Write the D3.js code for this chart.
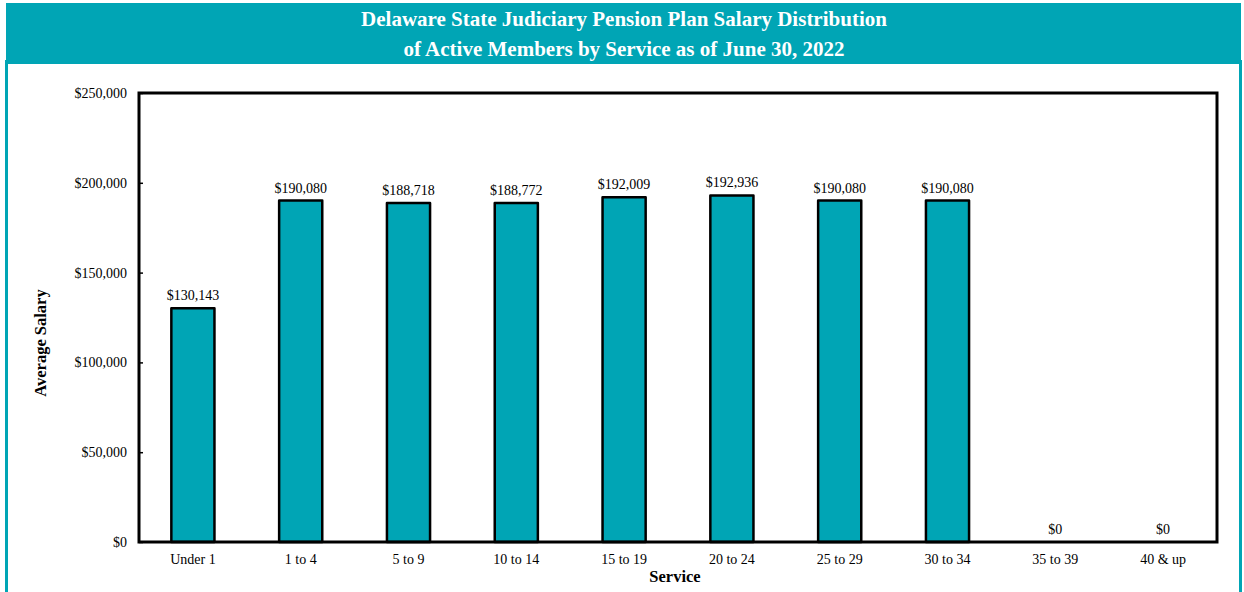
<!DOCTYPE html>
<html>
<head>
<meta charset="utf-8">
<script src="https://cdn.jsdelivr.net/npm/d3@7"></script>
<style>
  body { margin: 0; background: #fff; }
  text { font-family: "Liberation Serif", "Times New Roman", serif; }
</style>
</head>
<body>
<svg id="chart" width="1244" height="592"></svg>
<script>
const categories = ['Under 1', '1 to 4', '5 to 9', '10 to 14', '15 to 19', '20 to 24', '25 to 29', '30 to 34', '35 to 39', '40 & up'];
const salaries = [130143, 190080, 188718, 188772, 192009, 192936, 190080, 190080, 0, 0];
const yTicks = [0, 50000, 100000, 150000, 200000, 250000];
const titleLines = ['Delaware State Judiciary Pension Plan Salary Distribution', 'of Active Members by Service as of June 30, 2022'];

const teal = '#00a5b5';
const width = 1244, height = 592;
const margin = { top: 93, right: 27, bottom: 50, left: 139 };

const svg = d3.select('#chart');

// header band and frame
svg.append('rect').attr('x', 6).attr('y', 3).attr('width', 1235).attr('height', 61).attr('fill', teal);
svg.append('line').attr('x1', 6.5).attr('x2', 6.5).attr('y1', 60).attr('y2', height)
  .attr('stroke', teal).attr('stroke-width', 3);
svg.append('line').attr('x1', 1240.5).attr('x2', 1240.5).attr('y1', 60).attr('y2', height)
  .attr('stroke', teal).attr('stroke-width', 3);

svg.append('g').selectAll('text')
  .data(titleLines)
  .join('text')
  .attr('x', 624)
  .attr('y', (d, i) => 26 + i * 30)
  .attr('text-anchor', 'middle')
  .attr('fill', '#fff')
  .attr('font-weight', 'bold')
  .attr('font-size', '21px')
  .text(d => d);

const x = d3.scaleBand()
  .domain(categories)
  .range([margin.left, width - margin.right])
  .paddingInner(0.6)
  .paddingOuter(0.3);

const y = d3.scaleLinear()
  .domain([0, 250000])
  .range([height - margin.bottom, margin.top]);

const fmt = d => '$' + d3.format(',')(d);

// bars
svg.append('g')
  .selectAll('rect')
  .data(salaries)
  .join('rect')
  .attr('x', (d, i) => x(categories[i]))
  .attr('y', d => y(d))
  .attr('width', x.bandwidth())
  .attr('height', d => y(0) - y(d))
  .attr('fill', teal)
  .attr('stroke', '#000')
  .attr('stroke-width', 2.5)
  .attr('stroke-linejoin', 'round');

// value labels
svg.append('g')
  .selectAll('text')
  .data(salaries)
  .join('text')
  .attr('x', (d, i) => x(categories[i]) + x.bandwidth() / 2)
  .attr('y', d => y(d) - 8)
  .attr('text-anchor', 'middle')
  .attr('font-size', '14px')
  .attr('fill', '#000')
  .text(fmt);

// axes
const yAxis = svg.append('g')
  .attr('transform', `translate(${margin.left},0)`)
  .call(d3.axisRight(y).tickValues(yTicks).tickSize(4).tickFormat(fmt));
yAxis.select('.domain').remove();
yAxis.selectAll('text')
  .attr('x', -12)
  .attr('text-anchor', 'end')
  .attr('font-size', '14px')
  .attr('fill', '#000');
yAxis.selectAll('line').attr('stroke', '#000').attr('stroke-width', 1.5);

const xAxis = svg.append('g')
  .attr('transform', `translate(0,${height - margin.bottom})`)
  .call(d3.axisBottom(x).tickSize(0).tickPadding(12));
xAxis.select('.domain').remove();
xAxis.selectAll('text')
  .attr('font-size', '14px')
  .attr('fill', '#000');

// plot frame
svg.append('rect')
  .attr('x', margin.left)
  .attr('y', margin.top)
  .attr('width', width - margin.left - margin.right)
  .attr('height', height - margin.top - margin.bottom)
  .attr('fill', 'none')
  .attr('stroke', '#000')
  .attr('stroke-width', 3);

// axis titles
svg.append('text')
  .attr('transform', 'translate(46,343) rotate(-90)')
  .attr('text-anchor', 'middle')
  .attr('font-weight', 'bold')
  .attr('font-size', '16.5px')
  .text('Average Salary');

svg.append('text')
  .attr('x', 675)
  .attr('y', 582)
  .attr('text-anchor', 'middle')
  .attr('font-weight', 'bold')
  .attr('font-size', '16.5px')
  .text('Service');
</script>
</body>
</html>
